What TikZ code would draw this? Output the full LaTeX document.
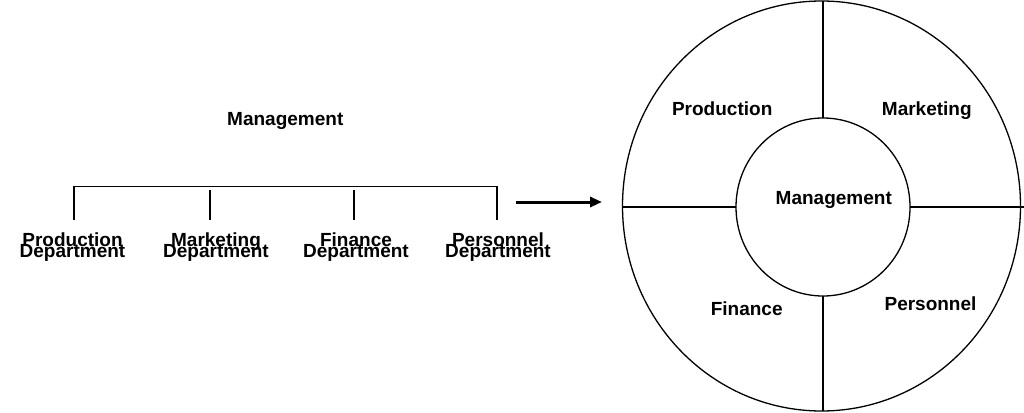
\documentclass[tikz,border=0pt]{standalone}
\usepackage{fontspec}
\setmainfont{Liberation Sans}
\usetikzlibrary{shapes.geometric,arrows.meta}
\newcommand\mytightlines{\lineskiplimit=-50pt\relax\lineskip=0pt\relax}
\begin{document}
\begin{tikzpicture}[x=1pt,y=-1pt,
  lbl/.style={font=\bfseries\fontsize{19}{22}\selectfont, inner sep=0pt, outer sep=0pt, anchor=base},
  dept/.style={font=\bfseries\fontsize{19}{11}\selectfont\mytightlines, align=center, inner sep=0pt, outer sep=0pt, anchor=north},
  ln/.style={line width=1.3pt},
  ring/.style={draw, ellipse, line width=1.3pt, inner sep=0pt, outer sep=0pt},
]
\useasboundingbox (0,0) rectangle (1024,412);
% ---- left: hierarchy ----
\node[lbl] (topmgmt) at (285.3,125.7) {Management};
\coordinate (b1) at (74,186.7);
\coordinate (b2) at (210,190);
\coordinate (b3) at (354,190);
\coordinate (b4) at (497,186.7);
\node[dept] (d1) at (72.5,233) {Production\\Department};
\node[dept] (d2) at (216,233) {Marketing\\Department};
\node[dept] (d3) at (356,233) {Finance\\Department};
\node[dept] (d4) at (498,233) {Personnel\\Department};
\draw[ln, shorten <=13pt, shorten >=13pt] (b1 |- d1.north) -- (b1) -- (b4) -- (b4 |- d4.north);
\draw[ln, shorten >=13pt] (b2) -- (b2 |- d2.north);
\draw[ln, shorten >=13pt] (b3) -- (b3 |- d3.north);
% ---- arrow ----
\coordinate (a1) at (516,202);
\coordinate (a2) at (602,202);
\draw[line width=3pt, -{Triangle[length=12pt,width=10pt]}] (a1) -- (a2);
% ---- right: circle ----
\node[ring, minimum width=398pt, minimum height=410pt] (outer) at (821.5,206) {};
\node[ring, minimum width=174pt, minimum height=178pt] (inner) at (823,207) {};
\coordinate (rend) at (1024,207);
\draw[ln] (inner.north) -- (inner.north |- outer.north);
\draw[ln] (inner.south) -- (inner.south |- outer.south);
\draw[ln] (inner.west) -- (inner.west -| outer.west);
\draw[ln] (inner.east) -- (rend);
\node[lbl] (cprod) at (722.2,115) {Production};
\node[lbl] (cmark) at (926.8,115) {Marketing};
\node[lbl] (cmgmt) at (833.8,204.3) {Management};
\node[lbl] (cfin) at (746.7,315) {Finance};
\node[lbl] (cpers) at (930.5,310.7) {Personnel};
\end{tikzpicture}
\end{document}
